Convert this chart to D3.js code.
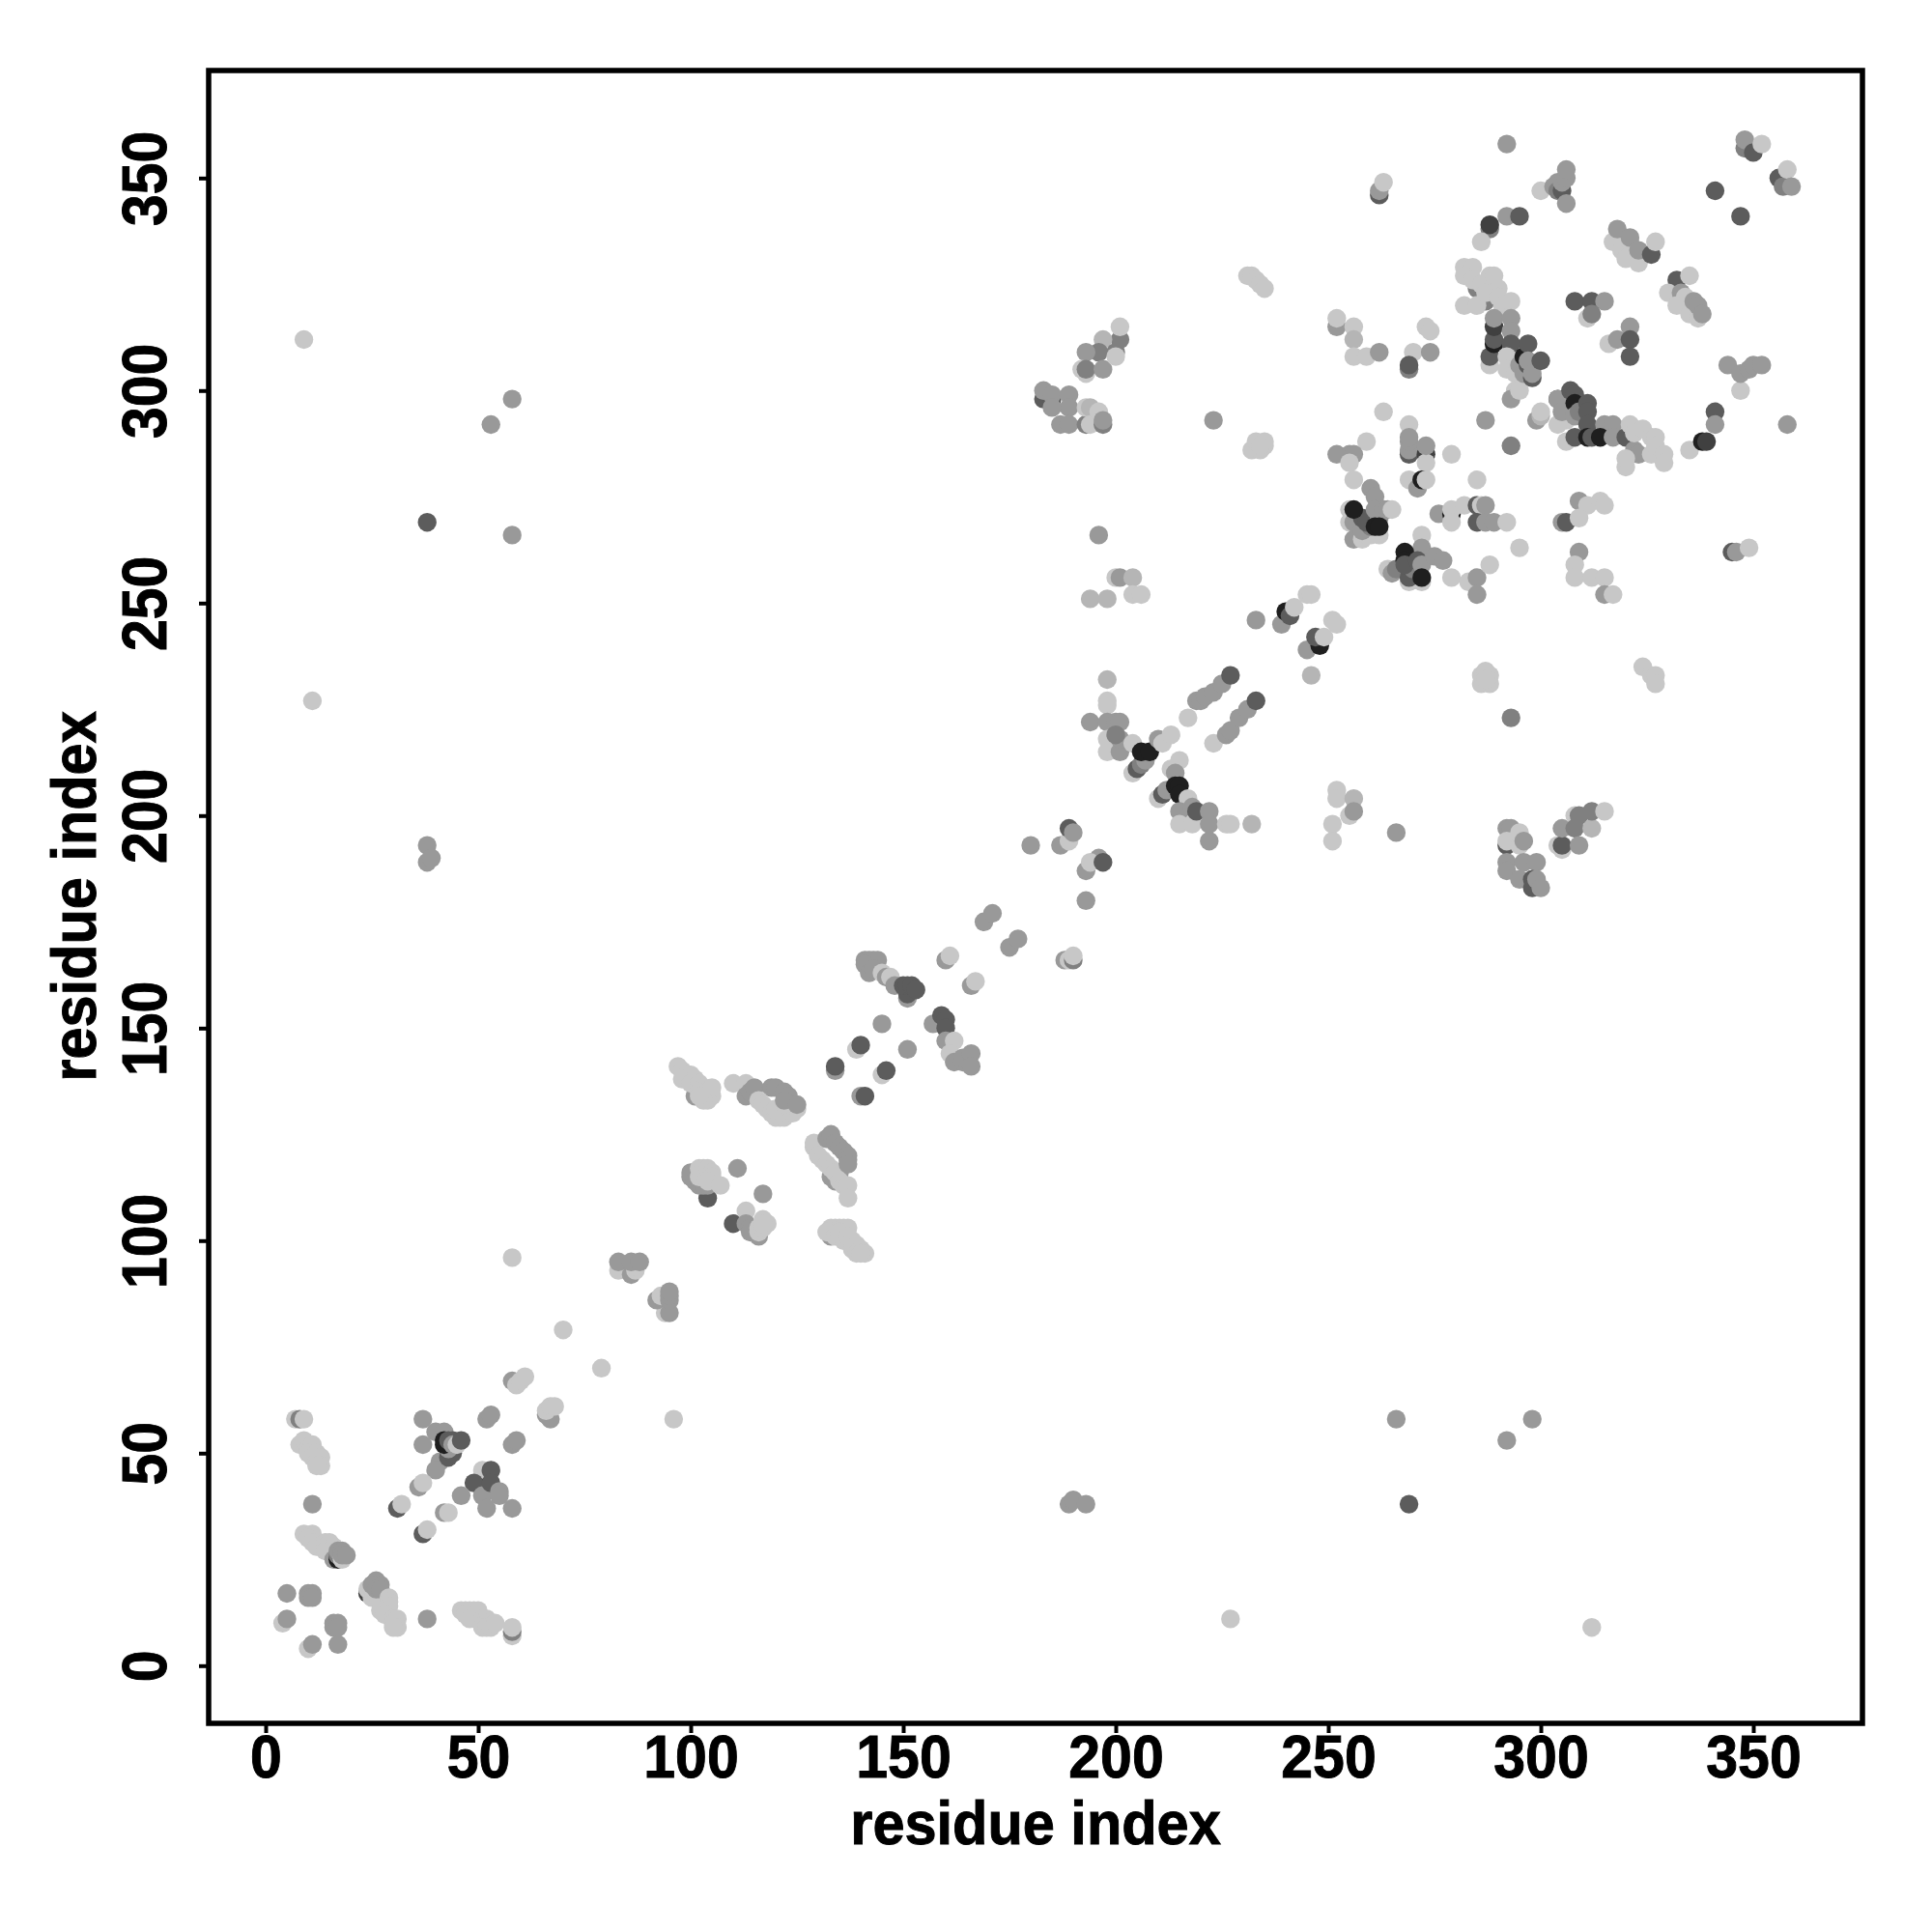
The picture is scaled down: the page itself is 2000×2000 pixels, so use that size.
<!DOCTYPE html>
<html><head><meta charset="utf-8">
<script src="https://cdn.jsdelivr.net/npm/d3@7"></script>
<style>html,body{margin:0;background:#fff}svg{display:block}text{font-family:"Liberation Sans",Arial,sans-serif;font-weight:700;fill:#000;stroke:#000;stroke-width:.9px}</style>
</head><body><svg id="c" width="2000" height="2000"></svg>
<script>
const L=.22,S=.29,M=.4,N=.5,D=.64,V=.75,K=.88; // contact strength levels
const xTickValues=[0,50,100,150,200,250,300,350];
const yTickValues=[0,50,100,150,200,250,300,350];
const axisTitle="residue index";
const contactsStart=[[7,58,L],[8,58,N],[9,58,L],[8,52,L],[9,53,L],[10,51,L],[11,52,L],[10,50,L],[11,49,L],[12,50,L],[12,48,L],[13,49,L],[13,47,L],[12,47,L],[11,38,M],
[9,31,L],[11,31,L],[10,30,L],[11,29,L],[12,28,L],[14,29,L],[15,29,L],[14,27,L],[16,28,L],[16,25,M],[17,25,K],[17,26,N],[17,27,M],[18,27,M],[18,25,L],[18,26,M],[19,26,M],
[24,17,V],[24,18,L],[25,16,L],[25,18,L],[26,17,L],[26,20,M],[27,19,M],[25,19,M],[26,18,M],[27,18,M],[29,16,L],[29,15,L],[29,14,L],[27,13,L],[28,12,L],[30,11,L],[30,10,L],[31,11,L],[31,9,L],[30,9,L],
[5,17,M],[10,17,M],[11,17,M],[10,16,M],[11,16,M],[4,10,L],[5,11,M],[38,11,M],[16,10,M],[17,10,M],[16,9,M],[17,9,M],[17,5,M],[10,4,L],[11,5,M],
[46,13,L],[47,13,L],[48,13,L],[49,13,L],[50,13,L],[47,12,L],[48,11,L],[51,11,L],[52,11,L],[52,10,L],[53,10,L],[51,9,L],[52,9,L],[53,9,L],[54,10,L],[58,7,L],[58,8,N],[58,9,L]];
const contactsBlock50=[[37,58,M],[37,52,M],[40,55,M],[42,55,M],[41,48,M],[40,46,M],[43,49,D],[44,50,D],[43,51,M],[42,52,K],[42,53,K],[43,53,D],[44,53,D],[44,52,M],[45,52,L],[46,53,D],
[36,42,M],[37,43,L],[31,37,D],[32,38,L],[37,31,D],[38,32,L],[42,36,M],[43,36,L],[51,46,L],[53,46,D],[52,42,K],[49,43,D],[51,40,M],[53,43,D],[46,40,M],[55,41,M],[55,40,M],[52,37,M],[58,37,M],
[52,58,M],[53,59,M],[58,52,M],[59,53,M],[58,67,M],[59,66,L],[60,67,L],[61,68,L],[66,59,M],[67,58,M],[66,60,L],[67,61,L],[68,61,L],[70,79,L],[79,70,L],[96,58,L],[58,96,L]];
const contactsBlock100=[[94,83,L],[95,83,M],[92,86,M],[93,87,L],[94,87,L],[95,86,M],[95,87,M],[95,88,M],[83,93,L],[83,95,M],[86,92,M],[87,93,L],[87,94,L],[86,95,M],[88,95,M],
[104,110,D],[100,115,M],[100,116,M],[101,114,M],[102,113,M],[103,113,M],[104,113,M],[102,115,L],[102,117,L],[103,116,L],[103,117,L],[104,117,L],[105,116,L],[105,115,L],[104,114,L],[107,113,L],
[111,117,M],[117,111,M],[110,104,D],[113,107,L],[113,104,M],[114,103,M],[114,102,M],[116,101,M],[116,102,L],[116,103,L],[117,103,L],[118,104,L],[117,105,L],[117,104,L],
[101,134,M],[97,141,L],[98,140,L],[99,139,L],[100,139,L],[98,138,L],[100,137,L],[101,138,L],[102,137,L],[103,136,L],[102,135,L],[103,134,L],[104,135,L],[105,136,L],[105,134,L],[104,133,L],[103,133,L],[102,134,L]];
const contactsBlock130=[[110,137,L],[113,137,L],[113,134,M],[114,135,M],[115,136,M],[119,136,M],[120,136,M],[116,133,L],[117,132,L],[118,131,L],[119,130,L],[120,129,L],[121,129,L],[122,129,L],[123,130,L],[124,130,L],[125,131,L],[120,131,L],[122,132,L],[122,135,M],[123,134,M],[122,133,M],[125,132,M],
[135,116,M],[133,115,M],[134,114,M],[129,122,L],[129,123,L],[130,120,L],[131,119,L],[132,118,L],[133,117,L],[134,116,L],[135,114,L],[136,113,L],[132,124,M],[133,125,M],[134,123,M],[135,122,M],[136,121,M],[137,120,M],[137,119,M],[137,118,M],[137,113,L],[137,110,L],
[133,101,M],[133,103,L],[134,103,L],[135,103,L],[136,103,L],[137,103,L],[132,102,L],[134,101,L],[135,102,L],[136,100,L],[137,101,L],[138,100,L],[139,99,L],[138,98,L],[140,98,L],[141,97,L],[139,97,L],[140,97,L]];
const contactsBlock150=[[134,140,M],[134,141,D],[139,145,L],[140,146,D],[145,139,L],[146,140,D],[140,134,M],[141,134,D],[145,151,M],[151,145,M],
[141,166,M],[142,166,M],[143,166,M],[144,166,M],[141,165,M],[142,163,M],[143,164,M],[145,163,L],[146,162,M],[147,162,L],[148,160,M],[151,157,M],[151,158,D],[150,160,D],[151,160,D],[152,160,D],[153,159,D],
[157,151,M],[159,153,D],[160,152,D],[160,150,D],[160,147,M],[162,147,L],[161,144,L],[162,142,M],[164,142,M],[164,143,M],[166,144,M],[166,141,M],[160,166,M],[161,167,L],[166,160,M],[167,161,L],
[169,175,M],[171,177,M],[175,169,M],[177,171,M],[188,166,M],[189,166,L],[190,166,N],[190,167,L],[193,180,M],[193,187,M],[196,190,M],[194,189,L],[197,189,D],[180,193,M],[187,193,M],[189,194,L],[189,197,D],[190,196,M]];
const contactsBlock210=[[198,232,S],[198,227,L],[198,226,L],[194,222,M],[198,222,M],[200,222,M],[201,222,M],[198,218,L],[198,215,L],[201,215,M],[201,218,M],[200,219,N],[204,217,L],[204,210,L],[205,211,D],[206,212,N],[207,213,M],[206,215,K],[208,215,K],[210,218,M],[211,217,L],[213,219,L],
[217,223,L],[219,227,M],[220,227,M],[221,228,M],[223,229,M],[225,231,M],[227,233,D],[223,217,L],[226,219,M],[227,220,M],[229,223,M],[231,225,M],[233,227,D],
[213,211,L],[215,213,L],[214,210,M],[210,204,L],[211,205,D],[212,206,M],[214,207,K],[215,207,K],[215,205,K],[217,204,L],[215,201,M],[218,202,M],[215,198,L],[218,198,L],[219,201,D],[222,201,M],[222,198,M],[222,194,M],[226,198,L],[227,198,L],[232,198,S],
[251,198,L],[251,194,L],[252,206,L],[252,204,L],[255,200,L],[256,204,S],[256,201,M],[266,196,M],
[231,327,L],[232,327,L],[233,326,L],[234,325,L],[235,324,L],[233,246,M],[239,245,M],[240,248,K],[241,247,D],[242,249,L],[245,252,L],[246,252,L],[245,239,M],[248,240,K],[247,242,D],[249,242,L],[251,246,L],[252,245,L],[246,233,S]];
const contactsLowerRight=[[292,193,D],[292,197,M],[293,197,M],[295,196,L],[292,194,L],[295,193,L],[296,194,M],[292,189,M],[292,187,M],[296,189,M],[299,189,M],[295,185,M],[298,185,D],[298,183,D],[299,185,M],[300,183,M],
[304,193,L],[305,192,L],[305,193,D],[305,197,M],[308,200,L],[309,200,N],[308,197,N],[309,193,M],[312,197,S],[312,201,N],[315,201,L],
[38,193,M],[38,189,M],[39,190,M],[189,38,M],[190,39,M],[193,38,M],[269,38,D],[266,58,M],[292,53,M],[298,58,M],[227,11,L],[312,9,L],[38,269,D],[58,298,M],[53,292,M],[58,266,M],[9,312,L],[11,227,L],
[286,231,L],[288,231,L],[286,233,L],[288,233,L],[287,234,L],[287,232,L],[293,223,N],[324,235,L],[326,233,L],[327,233,L],[327,231,L]];
const contactsUpperMiddle=[[201,312,N],[197,312,S],[200,309,N],[196,309,N],[193,309,M],[192,305,L],[193,304,L],[193,305,N],[197,305,M],[200,308,L],[201,315,L],
[183,298,D],[185,298,D],[183,300,M],[185,299,M],[189,299,M],[189,296,M],[185,296,M],[187,292,M],[189,292,M],[193,292,N],[193,296,L],[194,296,S],[194,292,L],[196,295,L],[197,292,N],[197,293,M],
[223,293,M],[233,287,L],[235,287,L],[232,286,L],[234,286,L],[233,288,L],[235,288,L],[234,287,L],[196,266,M],[200,256,L],[201,256,M],[204,256,S],[194,251,S],[198,251,S],[204,252,L],[206,252,L]];
const contactsBlock270=[[252,315,M],[252,317,L],[256,315,L],[256,312,S],[256,308,L],[259,308,L],[262,309,M],[273,315,L],[274,314,L],[270,309,L],[274,309,M],[269,305,N],[269,306,D],[263,295,L],
[269,292,L],[269,285,D],[269,286,M],[269,288,M],[269,289,M],[273,285,V],[273,283,L],[273,287,M],[259,288,L],[252,285,M],[255,285,M],[256,285,M],[255,283,L],[279,285,L],[287,293,M],[293,287,N],[285,279,L],
[269,279,L],[271,277,M],[272,279,K],[273,279,L],[256,279,L],[260,277,M],[261,275,M],[255,272,L],[255,269,L],[256,265,M],[258,265,L],[260,266,L],[262,266,L],[259,266,L],[256,269,M],[258,267,M],[260,268,N],[258,270,D],[259,269,D],[262,270,M],[256,272,K],[261,272,M],[263,272,M],[264,272,M],[265,272,L],[261,268,K],[262,268,K],
[276,271,M],[279,271,K],[279,272,L],[279,269,L],[282,273,L],[285,273,D],[286,273,L],[287,273,M],[285,269,D],[287,269,M],[289,269,M],[292,269,L],[305,269,M],[306,269,D],[309,274,M],[311,273,L],[314,274,L],[315,273,L],[309,270,L],[295,263,L],[345,262,D],[346,262,M],[349,263,L],
[309,262,M],[308,259,L],[308,256,L],[312,256,L],[315,256,L],[315,252,M],[317,252,L],
[264,258,L],[265,257,M],[266,258,N],[269,255,L],[272,255,L],[269,256,D],[270,258,N],[272,266,L],[272,263,M],[268,262,K],[268,260,K],[268,259,D],[271,260,D],[272,259,M],[275,261,M],[277,260,M],[272,256,K],[279,256,L],[283,255,L],[285,256,M],[285,252,M],[288,259,L]];
const contactsBlock310=[[292,358,M],[262,346,D],[262,347,M],[263,349,L],[300,347,L],[303,348,M],[304,349,M],[304,347,N],[305,347,D],[305,349,M],[306,350,M],[306,352,M],[306,344,M],[348,357,N],[348,359,M],[350,356,D],[352,358,L],[356,350,D],[357,348,N],[358,352,L],[359,348,M],[341,347,D],[347,341,D],
[288,338,N],[288,339,V],[292,341,M],[295,341,D],[286,335,L],[317,335,L],[319,333,L],[320,331,L],[323,330,L],[321,335,L],[318,338,M],[321,336,M],[323,333,M],[326,332,D],[327,335,L],
[332,326,D],[330,323,L],[333,323,M],[334,322,L],[332,320,L],[335,318,L],[337,317,L],[336,321,M],[337,320,M],[338,318,M],[335,327,L],
[308,321,D],[312,321,D],[315,321,M],[311,317,L],[312,318,N],[316,311,L],[318,312,M],[321,315,M],[321,312,D],[321,308,D],
[344,306,M],[347,300,L],[347,304,M],[349,305,M],[350,306,M],[352,306,M],[341,295,D],[341,292,M],[358,292,M],[335,286,L],[338,288,K],[339,288,V],
[285,324,N],[287,321,N],[282,329,L],[284,329,L],[282,327,L],[284,326,L],[286,325,L],[288,327,L],[289,327,L],[290,324,L],[282,320,L],[285,320,L],[287,323,L],[290,322,L],[291,320,L],[293,321,L],
[288,306,L],[288,308,D],[289,311,K],[289,312,D],[289,315,V],[289,317,M],[293,317,M],[293,314,M],[293,311,D],[292,308,L],[292,305,L],[294,304,L],[294,300,L],[293,298,M],[295,300,L],[295,306,M],[296,304,M],[296,308,K],[297,311,D],[297,306,D],[297,307,M],[298,303,D],[298,304,M],[300,307,D]];
const contactsBlock290=[[299,293,M],[300,294,S],[300,295,L],[306,288,L],[306,293,L],[304,292,L],[304,298,D],[304,298,M],[305,295,M],[307,300,D],[308,299,D],[308,297,K],[308,294,M],[309,295,N],[311,297,D],[311,295,D],[311,292,D],[315,292,M],[317,292,M],[308,289,D],[311,289,K],[312,289,D],[314,289,K],[317,289,M],
[320,289,D],[322,286,M],[323,285,M],[320,282,L],[320,284,L],[321,292,L],[322,290,L],[324,291,L],[326,289,L],[327,289,L],[326,285,L],[327,287,L],[329,285,L],[329,283,L]];
const contactGroups=[contactsStart,contactsBlock50,contactsBlock100,contactsBlock130,contactsBlock150,contactsBlock210,contactsLowerRight,contactsUpperMiddle,contactsBlock270,contactsBlock310,contactsBlock290];

const svg=d3.select("#c");
const box={l:216,r:1928,t:73,b:1784};
const x=d3.scaleLinear().domain([0,350]).range([275,1815]);
const y=d3.scaleLinear().domain([0,350]).range([1724.3,184.3]);
const gray=d3.scaleLinear().domain([0,1]).range(["#ffffff","#000000"]);

svg.append("g").selectAll("circle").data(contactGroups.flat()).join("circle")
 .attr("cx",d=>x(d[0])).attr("cy",d=>y(d[1])).attr("r",9.7).attr("fill",d=>gray(d[2]));

svg.append("rect").attr("x",box.l).attr("y",box.t).attr("width",box.r-box.l).attr("height",box.b-box.t)
 .attr("fill","none").attr("stroke","#000").attr("stroke-width",5.5);

const gx=svg.append("g").attr("transform",`translate(0,${box.b})`)
 .call(d3.axisBottom(x).tickValues(xTickValues).tickSize(10).tickFormat(d3.format("d")));
const gy=svg.append("g").attr("transform",`translate(${box.l},0)`)
 .call(d3.axisLeft(y).tickValues(yTickValues).tickSize(10).tickFormat(d3.format("d")));
[gx,gy].forEach(g=>{g.select(".domain").remove();g.selectAll("line").attr("stroke","#000").attr("stroke-width",4);
 g.selectAll("text").style("font-size","59px").style("font-family",'"Liberation Sans",Arial,sans-serif').style("font-weight",700).attr("fill","#000");});
gx.selectAll("text").attr("y",0).attr("dy",0).attr("transform","translate(0,56) scale(1,1.06)").attr("text-anchor","middle");
gy.selectAll("text").attr("x",0).attr("dy",0).attr("text-anchor","middle").attr("transform","translate(-44,0) rotate(-90) scale(1,1.11)");

svg.append("text").attr("x",1072).attr("y",1909).attr("text-anchor","middle").attr("transform","translate(0,1909) scale(1,1.06) translate(0,-1909)").style("font-size","59.5px").text(axisTitle);
svg.append("text").attr("transform","translate(99,928) rotate(-90) scale(1,1.08)").attr("text-anchor","middle").style("font-size","59.5px").text(axisTitle);
</script></body></html>
